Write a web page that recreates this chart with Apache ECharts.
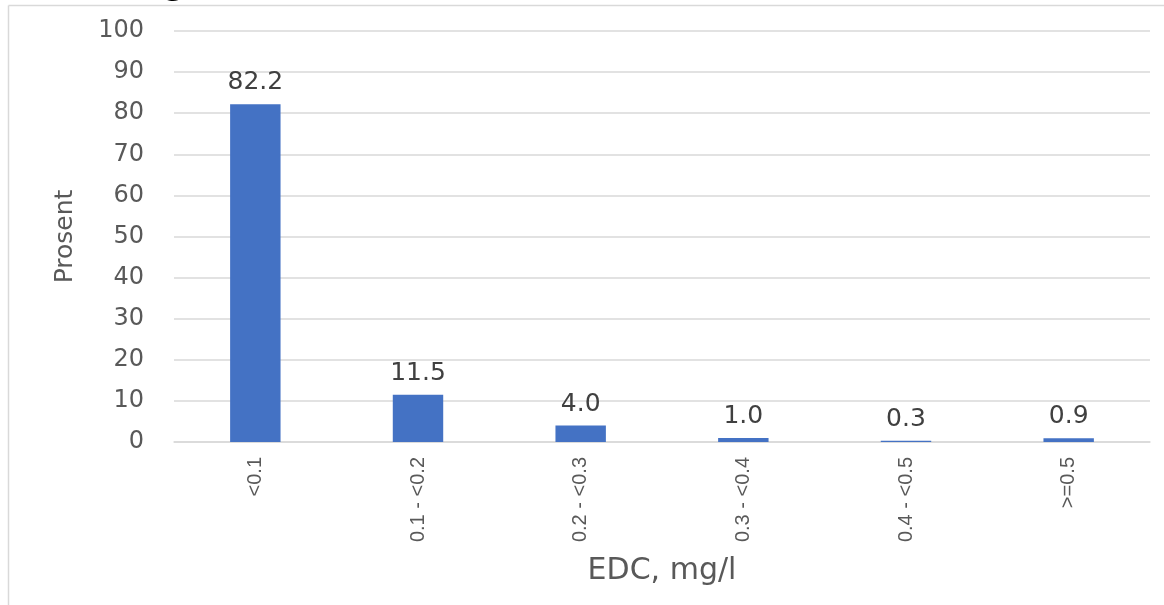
<!DOCTYPE html>
<html><head><meta charset="utf-8">
<script src="https://cdn.jsdelivr.net/npm/echarts@6/dist/echarts.min.js"></script>
<style>html,body{margin:0;padding:0;background:#fff}#c{width:1164px;height:605px}</style>
</head><body><div id="c"></div>
<script>
const categories = ['<0.1', '0.1 - <0.2', '0.2 - <0.3', '0.3 - <0.4', '0.4 - <0.5', '>=0.5'];
const values = [82.2, 11.5, 4.0, 1.0, 0.3, 0.9];
const yTicks = [0, 10, 20, 30, 40, 50, 60, 70, 80, 90, 100];

const WIDE = '"DejaVu Sans", sans-serif';
const NARROW = '"Liberation Sans", Arial, sans-serif';
const chart = echarts.init(document.getElementById('c'), null, {renderer: 'canvas'});
chart.setOption({
  animation: false,
  backgroundColor: '#fff',
  graphic: [
    {type: 'line', shape: {x1: 8.5, y1: 5.5, x2: 8.5, y2: 605}, style: {stroke: '#d9d9d9', lineWidth: 1.5}},
    {type: 'line', shape: {x1: 8.5, y1: 5.5, x2: 1164, y2: 5.5}, style: {stroke: '#d9d9d9', lineWidth: 1.5}},
    {type: 'text', left: 13, top: -38, style: {text: 'EDC, mg/l', font: '40px ' + WIDE, fill: '#000'}, z: -1}
  ],
  grid: {left: 174, right: 14, top: 31, bottom: 163},
  xAxis: {
    type: 'category', data: categories,
    axisLine: {show: true, lineStyle: {color: '#d9d9d9', width: 1.5}},
    axisTick: {show: false},
    axisLabel: {rotate: 90, margin: 15, fontSize: 20, color: '#595959', fontFamily: NARROW},
    name: 'EDC, mg/l', nameLocation: 'middle', nameGap: 114,
    nameTextStyle: {fontSize: 30, color: '#595959', fontFamily: WIDE}
  },
  yAxis: {
    type: 'value', min: yTicks[0], max: yTicks[yTicks.length - 1], interval: 10,
    axisLine: {show: false}, axisTick: {show: false},
    axisLabel: {fontSize: 24, color: '#595959', margin: 30, fontFamily: WIDE},
    splitLine: {lineStyle: {color: '#d9d9d9', width: 1.5}},
    name: 'Prosent', nameLocation: 'middle', nameGap: 96, nameRotate: 90,
    nameTextStyle: {fontSize: 25, color: '#595959', fontFamily: WIDE}
  },
  series: [{
    type: 'bar', data: values, barWidth: '31%',
    itemStyle: {color: '#4472C4'},
    label: {show: true, position: 'top', distance: 9, fontSize: 25, color: '#404040', fontFamily: WIDE,
      formatter: p => p.value.toFixed(1)}
  }]
});
</script></body></html>
